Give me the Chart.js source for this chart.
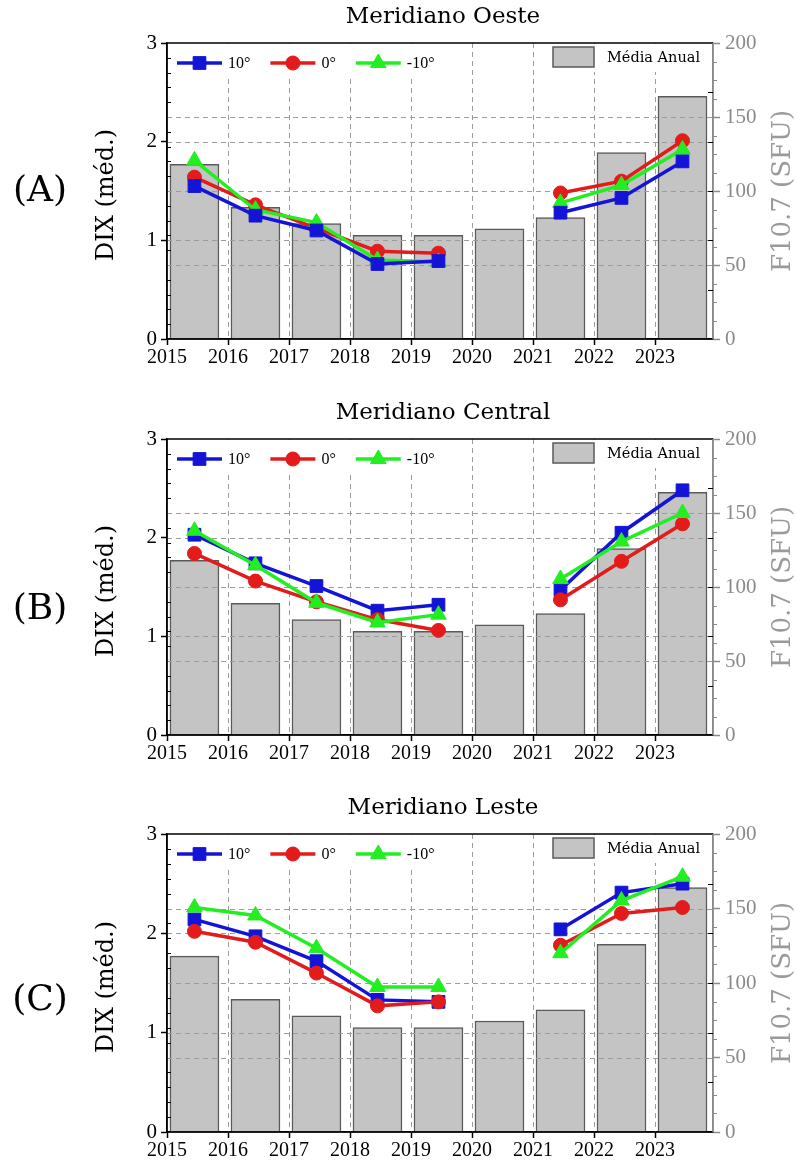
<!DOCTYPE html>
<html><head><meta charset="utf-8">
<script src="https://cdn.jsdelivr.net/npm/chart.js@4.4.1/dist/chart.umd.min.js"></script>
<style>
html,body{margin:0;padding:0;background:#fff;}
#wrap{position:relative;width:797px;height:1162px;overflow:hidden;}
canvas{position:absolute;left:0;}
</style></head><body>
<div id="wrap">
<canvas id="cA" width="797" height="396" style="top:0px"></canvas>
<canvas id="cB" width="797" height="396" style="top:396px"></canvas>
<canvas id="cC" width="797" height="371" style="top:791px"></canvas>
</div>
<script>
// ---------- DATA ----------
const years = [2015, 2016, 2017, 2018, 2019, 2020, 2021, 2022, 2023];
const f107Annual = [118, 89, 78, 70, 70, 74.5, 82, 126, 164];

const oeste10  = [1.55, 1.25, 1.10, 0.76, 0.79, null, 1.28, 1.43, 1.80];
const oeste0   = [1.64, 1.36, 1.12, 0.89, 0.87, null, 1.48, 1.60, 2.01];
const oesteM10 = [1.81, 1.31, 1.18, 0.80, 0.78, null, 1.38, 1.56, 1.92];

const central10  = [2.03, 1.74, 1.51, 1.26, 1.32, null, 1.47, 2.05, 2.48];
const central0   = [1.84, 1.56, 1.35, 1.17, 1.06, null, 1.37, 1.76, 2.14];
const centralM10 = [2.07, 1.72, 1.34, 1.14, 1.22, null, 1.58, 1.96, 2.25];

const leste10  = [2.14, 1.97, 1.72, 1.33, 1.31, null, 2.04, 2.41, 2.50];
const leste0   = [2.02, 1.91, 1.60, 1.27, 1.31, null, 1.88, 2.20, 2.26];
const lesteM10 = [2.26, 2.18, 1.85, 1.46, 1.46, null, 1.80, 2.33, 2.57];

const seriesNames = ['10°', '0°', '-10°'];
const barName = 'Média Anual';
const panelTitles = ['Meridiano Oeste', 'Meridiano Central', 'Meridiano Leste'];
const panelLabels = ['(A)', '(B)', '(C)'];
const yTitle = 'DIX (méd.)';
const y2Title = 'F10.7 (SFU)';
const xTickValues = [2015, 2016, 2017, 2018, 2019, 2020, 2021, 2022, 2023];
const yTickValues = [0, 1, 2, 3];
const y2TickValues = [0, 50, 100, 150, 200];

// ---------- STYLE ----------
const NUM_FONT = '"Liberation Serif", "Times New Roman", serif';
const TXT_FONT = '"DejaVu Serif", serif';
const MID = 0.45;            // annual mean plotted within the year
const COLORS = ['#1414d6', '#e31b1b', '#22ee22'];
const STYLES = ['rect', 'circle', 'triangle'];
const RADII = [9, 7, 9];
const GRID = '#9c9c9c';
const GRAYAX = '#8a8a8a';

function drawMarker(ctx, style, x, y, r, color) {
  ctx.save();
  ctx.fillStyle = color; ctx.strokeStyle = color; ctx.lineWidth = 1;
  ctx.beginPath();
  if (style === 'rect') {
    const s = Math.SQRT1_2 * r;
    ctx.rect(x - s, y - s, 2 * s, 2 * s);
  } else if (style === 'circle') {
    ctx.arc(x, y, r, 0, Math.PI * 2);
  } else {
    for (let k = 0; k < 3; k++) {
      const a = -Math.PI / 2 + k * 2 * Math.PI / 3;
      const px = x + Math.cos(a) * r, py = y + Math.sin(a) * r;
      if (k === 0) ctx.moveTo(px, py); else ctx.lineTo(px, py);
    }
    ctx.closePath();
  }
  ctx.fill(); ctx.stroke();
  ctx.restore();
}

function makePanel(id, idx, series, orders, plotBottom, labelY) {
  const canvas = document.getElementById(id);
  const H = canvas.height;

  const decor = {
    id: 'decor' + idx,
    beforeDraw(chart) {
      const c = chart.ctx;
      c.save(); c.fillStyle = '#fff'; c.fillRect(0, 0, chart.width, chart.height); c.restore();
    },
    afterDatasetDraw(chart, args) {
      if (chart.data.datasets[args.index].type !== 'bar') return;
      const c = chart.ctx, a = chart.chartArea;
      const xs = chart.scales.x, ys = chart.scales.y, y2 = chart.scales.y2;
      c.save();
      c.setLineDash([5, 4]);
      c.strokeStyle = GRID; c.lineWidth = 1;
      c.beginPath();
      xTickValues.slice(1).forEach(v => {
        const px = Math.round(xs.getPixelForValue(v)) + 0.5;
        c.moveTo(px, a.top); c.lineTo(px, a.bottom);
      });
      [1, 2].forEach(v => {
        const py = Math.round(ys.getPixelForValue(v)) + 0.5;
        c.moveTo(a.left, py); c.lineTo(a.right, py);
      });
      [50, 100, 150].forEach(v => {
        const py = Math.round(y2.getPixelForValue(v)) + 0.5;
        c.moveTo(a.left, py); c.lineTo(a.right, py);
      });
      c.stroke();
      c.restore();
    },
    afterDraw(chart) {
      const c = chart.ctx, a = chart.chartArea;
      const ys = chart.scales.y, y2 = chart.scales.y2;
      c.save();
      // legend backgrounds (white) and content
      c.fillStyle = '#fff';
      c.fillRect(a.left + 2, a.top + 1, 282, 32);
      c.fillRect(a.left + 378, a.top + 1, 165, 28);
      // series legend
      let x = a.left + 10;
      const ly = a.top + 20;
      c.font = '16px ' + NUM_FONT;
      c.textBaseline = 'middle'; c.textAlign = 'left';
      for (let k = 0; k < 3; k++) {
        c.strokeStyle = COLORS[k]; c.lineWidth = 3.5;
        c.beginPath(); c.moveTo(x, ly); c.lineTo(x + 45, ly); c.stroke();
        drawMarker(c, STYLES[k], x + 22.5, ly, RADII[k], COLORS[k]);
        c.fillStyle = '#000';
        c.fillText(seriesNames[k], x + 51, ly + 1);
        x += 51 + c.measureText(seriesNames[k]).width + 20;
      }
      // bar legend
      c.fillStyle = '#c4c4c4'; c.strokeStyle = '#5a5a5a'; c.lineWidth = 1.5;
      c.fillRect(a.left + 386, a.top + 4, 41, 20);
      c.strokeRect(a.left + 386, a.top + 4, 41, 20);
      c.fillStyle = '#000';
      c.font = '14.5px ' + TXT_FONT;
      c.fillText(barName, a.left + 440, a.top + 15);

      // frame
      c.lineWidth = 1.5;
      c.strokeStyle = '#000';
      c.beginPath();
      c.moveTo(a.left, a.top); c.lineTo(a.right, a.top);
      c.moveTo(a.left, a.top); c.lineTo(a.left, a.bottom);
      c.moveTo(a.left, a.bottom); c.lineTo(a.right, a.bottom);
      c.stroke();
      c.strokeStyle = GRAYAX;
      c.beginPath(); c.moveTo(a.right, a.top); c.lineTo(a.right, a.bottom); c.stroke();

      // minor ticks
      c.lineWidth = 1;
      c.strokeStyle = '#000';
      c.beginPath();
      for (let v = 10; v < 200; v += 10) {
        if (v % 50 === 0) continue;
        const py = Math.round(y2.getPixelForValue(v)) + 0.5;
        c.moveTo(a.left, py); c.lineTo(a.left + 4, py);
      }
      for (let v = 0.5; v < 3; v += 0.5) {
        const py = Math.round(ys.getPixelForValue(v)) + 0.5;
        c.moveTo(a.right, py); c.lineTo(a.right - 5, py);
      }
      c.stroke();
      c.strokeStyle = GRAYAX;
      c.beginPath();
      for (let v = 12.5; v < 200; v += 12.5) {
        if (v % 50 === 0) continue;
        const py = Math.round(y2.getPixelForValue(v)) + 0.5;
        c.moveTo(a.right, py); c.lineTo(a.right + 4, py);
      }
      c.stroke();

      // titles
      const midY = (a.top + a.bottom) / 2;
      c.fillStyle = '#000';
      c.textAlign = 'center'; c.textBaseline = 'middle';
      c.font = '23px ' + TXT_FONT;
      c.fillText(panelTitles[idx], (a.left + a.right) / 2 + 3, 17);
      c.font = '36px ' + TXT_FONT;
      c.fillText(panelLabels[idx], 40, labelY);
      c.save();
      c.translate(107, midY + 4); c.rotate(-Math.PI / 2);
      c.font = '24px ' + TXT_FONT;
      c.fillText(yTitle, 0, 0);
      c.restore();
      c.save();
      c.translate(783, midY); c.rotate(-Math.PI / 2);
      c.font = '26px ' + TXT_FONT;
      c.fillStyle = '#9a9a9a';
      c.fillText(y2Title, 0, 0);
      c.restore();
      c.restore();
    }
  };

  const lineSets = series.map((vals, k) => ({
    type: 'line',
    label: seriesNames[k],
    data: years.map((yr, i) => ({ x: yr + MID, y: vals[i] })),
    borderColor: COLORS[k],
    backgroundColor: COLORS[k],
    borderWidth: 3.5,
    pointStyle: STYLES[k],
    pointRadius: RADII[k],
    pointHoverRadius: RADII[k],
    pointBorderWidth: 1,
    spanGaps: false,
    tension: 0,
    xAxisID: 'x', yAxisID: 'y',
    order: orders[k]
  }));

  const barSet = {
    type: 'bar',
    label: barName,
    data: years.map((yr, i) => ({ x: yr + MID, y: f107Annual[i] })),
    backgroundColor: '#c4c4c4',
    borderColor: '#5a5a5a',
    borderWidth: 1.5,
    barThickness: 49,
    xAxisID: 'x', yAxisID: 'y2',
    order: 10
  };

  return new Chart(canvas, {
    type: 'line',
    data: { datasets: [barSet, ...lineSets] },
    options: {
      responsive: false,
      animation: false,
      devicePixelRatio: 1,
      layout: { padding: { top: 43, left: 0, right: 0, bottom: 0 } },
      plugins: { legend: { display: false }, tooltip: { enabled: false } },
      scales: {
        x: {
          type: 'linear', position: 'bottom', min: 2015, max: 2023.95,
          offset: false,
          afterBuildTicks: s => { s.ticks = xTickValues.map(v => ({ value: v })); },
          afterFit: s => { s.height = H - plotBottom; },
          ticks: { callback: v => String(v), color: '#000', font: { family: NUM_FONT, size: 20 }, padding: 1, maxRotation: 0, autoSkip: false },
          grid: { display: true, offset: false, drawOnChartArea: false, tickLength: 6, tickColor: '#000', tickWidth: 1.5, tickBorderDash: [] },
          border: { display: true, color: '#000', width: 1.5 }
        },
        y: {
          position: 'left', min: 0, max: 3,
          afterBuildTicks: s => { s.ticks = yTickValues.map(v => ({ value: v })); },
          afterFit: s => { s.width = 167; },
          ticks: { callback: v => String(v), color: '#000', font: { family: NUM_FONT, size: 21 }, padding: 4 },
          grid: { display: true, drawOnChartArea: false, tickLength: 6, tickColor: '#000', tickWidth: 1.5, tickBorderDash: [] },
          border: { display: true, color: '#000', width: 1.5 }
        },
        y2: {
          position: 'right', min: 0, max: 200,
          afterBuildTicks: s => { s.ticks = y2TickValues.map(v => ({ value: v })); },
          afterFit: s => { s.width = 797 - 713; },
          ticks: { callback: v => String(v), color: GRAYAX, font: { family: NUM_FONT, size: 21 }, padding: 5 },
          grid: { display: true, drawOnChartArea: false, tickLength: 7, tickColor: GRAYAX, tickWidth: 1.5, tickBorderDash: [] },
          border: { display: true, color: GRAYAX, width: 1.5 }
        }
      }
    },
    plugins: [decor]
  });
}

makePanel('cA', 0, [oeste10, oeste0, oesteM10], [1, 3, 2], 339, 192);
makePanel('cB', 1, [central10, central0, centralM10], [3, 2, 1], 339, 214);
makePanel('cC', 2, [leste10, leste0, lesteM10], [3, 2, 1], 341, 210);
</script>
</body></html>
